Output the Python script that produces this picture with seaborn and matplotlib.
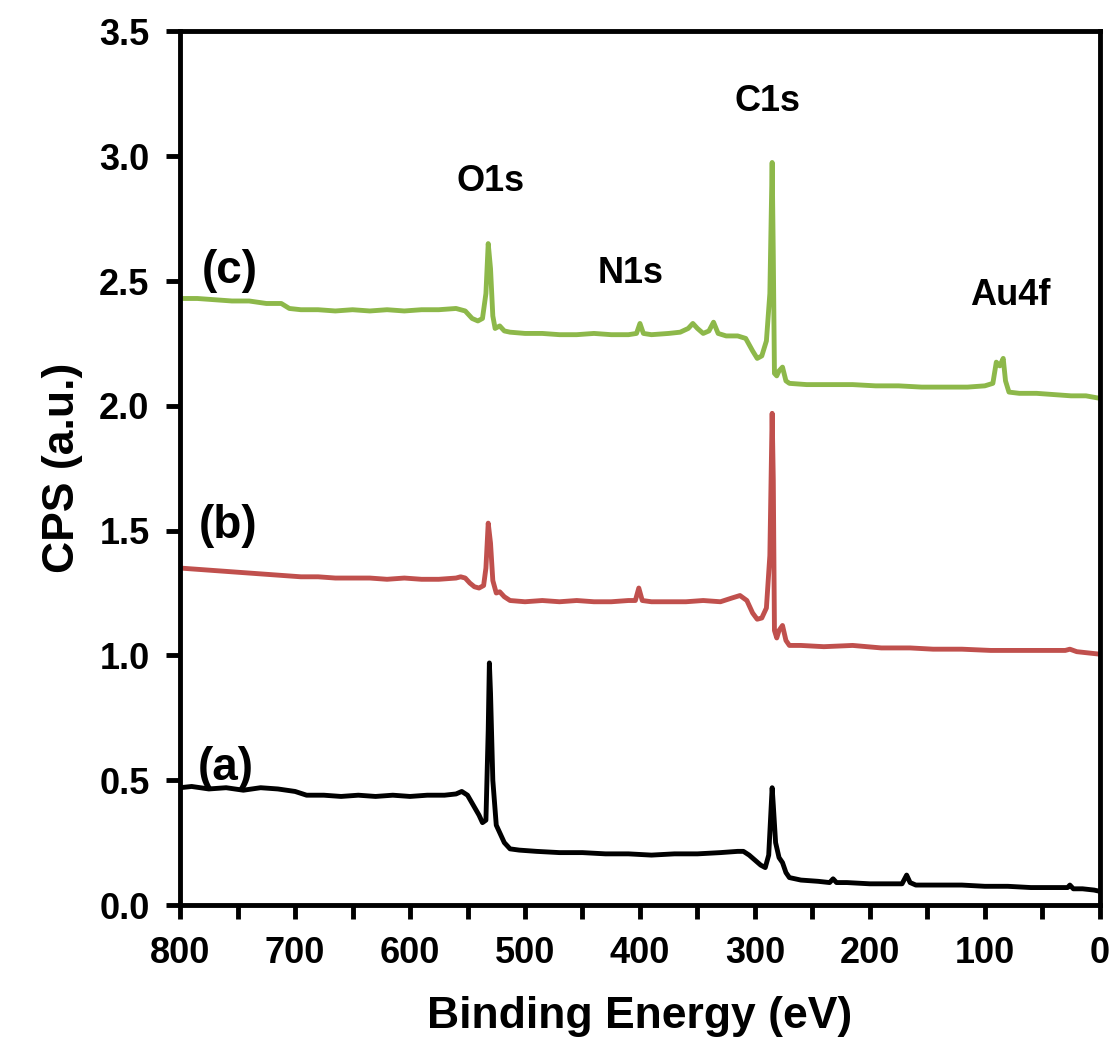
import numpy as np
import pandas as pd
import matplotlib
matplotlib.use('Agg')
import matplotlib.pyplot as plt
import seaborn as sns
from matplotlib.ticker import MultipleLocator

# XPS survey spectra (binding energy in eV, CPS in a.u.)
energy_a = [800, 790, 775, 760, 745, 730, 715, 700, 690, 675, 660, 645, 630, 615, 600,
            585, 570, 560, 555, 550, 545, 540, 537, 534, 532, 531, 530, 528, 525, 522,
            518, 513, 505, 490, 470, 450, 430, 410, 390, 370, 350, 330, 315, 310, 305,
            300, 295, 291, 288, 286, 285, 284, 282, 279, 276, 273, 270, 260, 245, 235,
            232, 229, 220, 200, 180, 172, 168, 165, 160, 140, 120, 100, 80, 60, 40,
            28, 26, 23, 15, 5, 0]
cps_a = [0.47, 0.475, 0.465, 0.47, 0.46, 0.47, 0.465, 0.455, 0.44, 0.44, 0.435, 0.44,
         0.435, 0.44, 0.435, 0.44, 0.44, 0.445, 0.455, 0.44, 0.40, 0.36, 0.33, 0.34, 0.70,
         0.97, 0.85, 0.50, 0.32, 0.29, 0.25, 0.225, 0.22, 0.215, 0.21, 0.21, 0.205, 0.205,
         0.20, 0.205, 0.205, 0.21, 0.215, 0.215, 0.20, 0.18, 0.16, 0.15, 0.20, 0.38, 0.47,
         0.40, 0.25, 0.19, 0.17, 0.13, 0.11, 0.10, 0.095, 0.09, 0.105, 0.09, 0.09, 0.085,
         0.085, 0.085, 0.12, 0.09, 0.08, 0.08, 0.08, 0.075, 0.075, 0.07, 0.07, 0.07, 0.08,
         0.065, 0.065, 0.06, 0.055]

energy_b = [800, 785, 770, 755, 740, 725, 710, 695, 680, 665, 650, 635, 620, 605, 590,
            575, 560, 556, 552, 548, 544, 540, 536, 534, 532, 530, 528, 525, 522, 518,
            513, 500, 485, 470, 455, 440, 425, 410, 404, 401, 398, 390, 375, 360, 345,
            330, 320, 313, 307, 302, 298, 294, 290, 287, 285, 284, 283, 281, 279, 276,
            273, 270, 260, 240, 215, 190, 165, 145, 120, 95, 70, 45, 30, 26, 20, 10, 0]
cps_b = [1.35, 1.345, 1.34, 1.335, 1.33, 1.325, 1.32, 1.315, 1.315, 1.31, 1.31, 1.31,
         1.305, 1.31, 1.305, 1.305, 1.31, 1.315, 1.31, 1.29, 1.275, 1.27, 1.28, 1.35,
         1.53, 1.45, 1.30, 1.25, 1.255, 1.235, 1.22, 1.215, 1.22, 1.215, 1.22, 1.215,
         1.215, 1.22, 1.22, 1.27, 1.22, 1.215, 1.215, 1.215, 1.22, 1.215, 1.23, 1.24,
         1.22, 1.17, 1.145, 1.15, 1.19, 1.40, 1.97, 1.70, 1.10, 1.07, 1.10, 1.12, 1.06,
         1.04, 1.04, 1.035, 1.04, 1.03, 1.03, 1.025, 1.025, 1.02, 1.02, 1.02, 1.02, 1.025,
         1.015, 1.01, 1.005]

energy_c = [800, 785, 770, 755, 740, 725, 712, 705, 695, 680, 665, 650, 635, 620, 605,
            590, 575, 560, 552, 546, 541, 537, 534, 532, 530, 528, 526, 522, 518, 513,
            500, 485, 470, 455, 440, 425, 410, 403, 400, 397, 390, 375, 365, 358, 354,
            350, 345, 340, 336, 332, 325, 315, 308, 302, 298, 294, 290, 287, 285, 284,
            283, 281, 279, 276, 273, 270, 255, 235, 215, 195, 175, 155, 135, 115, 100,
            93, 90, 87, 84, 82, 79, 70, 55, 40, 25, 12, 0]
cps_c = [2.43, 2.43, 2.425, 2.42, 2.42, 2.41, 2.41, 2.39, 2.385, 2.385, 2.38, 2.385,
         2.38, 2.385, 2.38, 2.385, 2.385, 2.39, 2.38, 2.35, 2.34, 2.35, 2.45, 2.65, 2.55,
         2.36, 2.31, 2.32, 2.30, 2.295, 2.29, 2.29, 2.285, 2.285, 2.29, 2.285, 2.285,
         2.29, 2.33, 2.29, 2.285, 2.29, 2.295, 2.31, 2.33, 2.31, 2.29, 2.30, 2.335, 2.29,
         2.28, 2.28, 2.27, 2.22, 2.19, 2.20, 2.26, 2.45, 2.975, 2.60, 2.13, 2.12, 2.14,
         2.155, 2.10, 2.09, 2.085, 2.085, 2.085, 2.08, 2.08, 2.075, 2.075, 2.075, 2.08,
         2.09, 2.175, 2.16, 2.19, 2.10, 2.055, 2.05, 2.05, 2.045, 2.04, 2.04, 2.03]

labels = ['(a)', '(b)', '(c)']
colors = ['#000000', '#C0504D', '#8DB84A']

# peak annotations: name, energy, cps
peak_names = ['O1s', 'N1s', 'C1s', 'Au4f']
peak_x = [530, 408, 289, 78]
peak_y = [2.90, 2.53, 3.22, 2.44]
label_x = [760, 758, 757]
label_y = [0.55, 1.52, 2.54]

sns.set_style('white')
plt.rcParams['font.family'] = ['Liberation Sans', 'DejaVu Sans']
plt.rcParams['font.weight'] = 'bold'
plt.rcParams['text.color'] = 'black'
plt.rcParams['axes.labelcolor'] = 'black'
plt.rcParams['xtick.color'] = 'black'
plt.rcParams['ytick.color'] = 'black'

fig = plt.figure(figsize=(11.12, 10.47), dpi=100)
ax = fig.add_axes([0.162, 0.1356, 0.827, 0.8344])

series = [(energy_a, cps_a), (energy_b, cps_b), (energy_c, cps_c)]
for (e, c), col in zip(series, colors):
    df = pd.DataFrame({'Binding Energy': e, 'CPS': c})
    sns.lineplot(data=df, x='Binding Energy', y='CPS', color=col, linewidth=3.5,
                 sort=False, estimator=None, ax=ax)

for name, x, y in zip(peak_names, peak_x, peak_y):
    ax.text(x, y, name, fontsize=26, fontweight='bold', ha='center', va='center',
            color='black')
for name, x, y in zip(labels, label_x, label_y):
    ax.text(x, y, name, fontsize=33, fontweight='bold', ha='center', va='center',
            color='black')

ax.set_xlim(800, 0)
ax.set_ylim(0, 3.5)
ax.xaxis.set_major_locator(MultipleLocator(100))
ax.xaxis.set_minor_locator(MultipleLocator(50))
ax.yaxis.set_major_locator(MultipleLocator(0.5))
ax.yaxis.set_major_formatter(matplotlib.ticker.FormatStrFormatter('%.1f'))

ax.tick_params(axis='both', which='both', direction='out', length=10, width=3.5,
               labelsize=26, bottom=True, left=True, pad=12, colors='black')
for lab in ax.get_xticklabels() + ax.get_yticklabels():
    lab.set_fontweight('bold')

for sp in ax.spines.values():
    sp.set_linewidth(3.5)
    sp.set_color('black')

ax.set_xlabel('Binding Energy (eV)', fontsize=32, fontweight='bold', labelpad=18)
ax.set_ylabel('CPS (a.u.)', fontsize=32, fontweight='bold', labelpad=12)

fig.savefig('out.png', dpi=100)
